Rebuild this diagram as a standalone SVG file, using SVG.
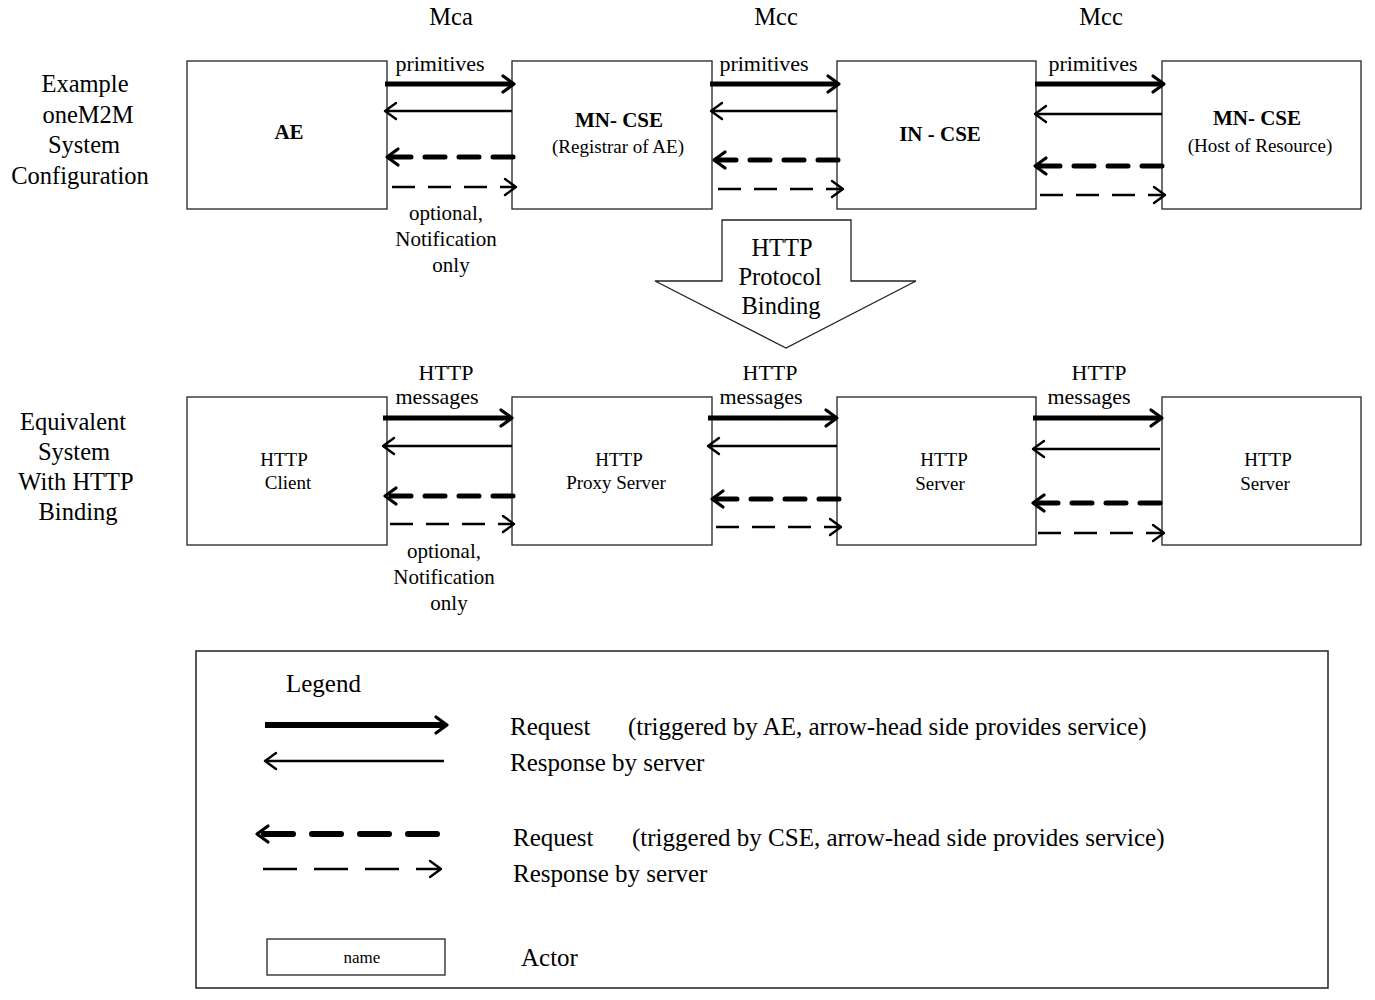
<svg xmlns="http://www.w3.org/2000/svg" width="1375" height="1000" viewBox="0 0 1375 1000">
<style>
text{font-family:"Liberation Serif","Times New Roman",serif;fill:#000}
.c{text-anchor:middle}
.s24{font-size:24.5px}
.s25{font-size:25px}
.s22{font-size:22px}
.s21{font-size:21px}
.s19{font-size:19px}
.b{font-weight:bold;font-size:21px}
.box{fill:#fff;stroke:#222;stroke-width:1.3}
.req{fill:none;stroke:#000;stroke-width:5;marker-end:url(#ahK)}
.rsp{fill:none;stroke:#000;stroke-width:2.4;marker-end:url(#ahT)}
.dreq{fill:none;stroke:#000;stroke-width:5;stroke-linecap:round;stroke-dasharray:20 14;marker-end:url(#ahK)}
.drsp{fill:none;stroke:#000;stroke-width:2.4;stroke-dasharray:23 13;marker-end:url(#ahT)}
.lreq{fill:none;stroke:#000;stroke-width:6;marker-end:url(#ahK)}
.ldreq{fill:none;stroke:#000;stroke-width:6;stroke-linecap:round;stroke-dasharray:29 19;marker-end:url(#ahK)}
.ldrsp{fill:none;stroke:#000;stroke-width:2.4;stroke-dasharray:34 17;marker-end:url(#ahT)}
</style>
<defs>
<marker id="ahK" markerUnits="userSpaceOnUse" markerWidth="18" markerHeight="22" viewBox="-15 -11 18 22" refX="-2" refY="0" orient="auto">
<path d="M-11,-8 L0,0 L-11,8" fill="none" stroke="#000" stroke-width="3.2" stroke-linecap="round" stroke-linejoin="round"/>
</marker>
<marker id="ahT" markerUnits="userSpaceOnUse" markerWidth="18" markerHeight="22" viewBox="-15 -11 18 22" refX="-1" refY="0" orient="auto">
<path d="M-11,-8 L0,0 L-11,8" fill="none" stroke="#000" stroke-width="2.4" stroke-linecap="round" stroke-linejoin="round"/>
</marker>
</defs>
<rect width="1375" height="1000" fill="#fff"/>

<g id="labels">
<text class="c s24" x="451" y="25">Mca</text>
<text class="c s24" x="776" y="25">Mcc</text>
<text class="c s24" x="1101" y="25">Mcc</text>
<text class="c s24" x="85" y="92">Example</text>
<text class="c s24" x="88" y="123">oneM2M</text>
<text class="c s24" x="84" y="153">System</text>
<text class="c s24" x="80" y="184">Configuration</text>
<text class="c s24" x="73" y="430">Equivalent</text>
<text class="c s24" x="74" y="460">System</text>
<text class="c s24" x="76" y="490">With HTTP</text>
<text class="c s24" x="78" y="520">Binding</text>
<text class="c s22" x="440" y="71">primitives</text>
<text class="c s22" x="764" y="71">primitives</text>
<text class="c s22" x="1093" y="71">primitives</text>
<text class="c s21" x="446" y="220">optional,</text>
<text class="c s21" x="446" y="246">Notification</text>
<text class="c s21" x="451" y="272">only</text>
<text class="c s22" x="446" y="380">HTTP</text>
<text class="c s22" x="437" y="404">messages</text>
<text class="c s22" x="770" y="380">HTTP</text>
<text class="c s22" x="761" y="404">messages</text>
<text class="c s22" x="1099" y="380">HTTP</text>
<text class="c s22" x="1089" y="404">messages</text>
<text class="c s21" x="444" y="558">optional,</text>
<text class="c s21" x="444" y="584">Notification</text>
<text class="c s21" x="449" y="610">only</text>
</g>

<g id="node-ae">
<rect class="box" x="187" y="61" width="200" height="148"/>
<text class="c b" x="289" y="139">AE</text>
</g>
<g id="node-mn-cse-registrar">
<rect class="box" x="512" y="61" width="200" height="148"/>
<text class="c b" x="619" y="127">MN- CSE</text>
<text class="c s19" x="618" y="153">(Registrar of AE)</text>
</g>
<g id="node-in-cse">
<rect class="box" x="837" y="61" width="199" height="148"/>
<text class="c b" x="940" y="141">IN - CSE</text>
</g>
<g id="node-mn-cse-host">
<rect class="box" x="1162" y="61" width="199" height="148"/>
<text class="c b" x="1257" y="125">MN- CSE</text>
<text class="c s19" x="1260" y="152">(Host of Resource)</text>
</g>

<g id="node-http-binding-arrow">
<polygon points="722,220 851,220 851,281 916,281 786,348 655,281 722,281" fill="#fff" stroke="#222" stroke-width="1.3"/>
<text class="c s24" x="782" y="256">HTTP</text>
<text class="c s24" x="780" y="285">Protocol</text>
<text class="c s24" x="781" y="314">Binding</text>
</g>

<g id="node-http-client">
<rect class="box" x="187" y="397" width="200" height="148"/>
<text class="c s19" x="284" y="466">HTTP</text>
<text class="c s19" x="288" y="489">Client</text>
</g>
<g id="node-http-proxy">
<rect class="box" x="512" y="397" width="200" height="148"/>
<text class="c s19" x="619" y="466">HTTP</text>
<text class="c s19" x="616" y="489">Proxy Server</text>
</g>
<g id="node-http-server-1">
<rect class="box" x="837" y="397" width="199" height="148"/>
<text class="c s19" x="944" y="466">HTTP</text>
<text class="c s19" x="940" y="490">Server</text>
</g>
<g id="node-http-server-2">
<rect class="box" x="1162" y="397" width="199" height="148"/>
<text class="c s19" x="1268" y="466">HTTP</text>
<text class="c s19" x="1265" y="490">Server</text>
</g>

<g id="connectors">
<path class="req" d="M385,84 H512"/>
<path class="rsp" d="M512,111 H386"/>
<path class="dreq" d="M513,157 H389"/>
<path class="drsp" d="M392,187 H515"/>

<path class="req" d="M710,84 H837"/>
<path class="rsp" d="M837,111 H712"/>
<path class="dreq" d="M838,160 H716"/>
<path class="drsp" d="M718,189 H842"/>

<path class="req" d="M1035,84 H1162"/>
<path class="rsp" d="M1162,114 H1036"/>
<path class="dreq" d="M1162,166 H1037"/>
<path class="drsp" d="M1040,195 H1164"/>

<path class="req" d="M383,418 H510"/>
<path class="rsp" d="M512,446 H384"/>
<path class="dreq" d="M513,496 H387"/>
<path class="drsp" d="M390,524 H513"/>

<path class="req" d="M708,418 H835"/>
<path class="rsp" d="M837,446 H709"/>
<path class="dreq" d="M839,499 H714"/>
<path class="drsp" d="M716,527 H840"/>

<path class="req" d="M1033,418 H1160"/>
<path class="rsp" d="M1160,449 H1034"/>
<path class="dreq" d="M1160,503 H1035"/>
<path class="drsp" d="M1038,533 H1163"/>
</g>

<g id="legend">
<rect x="196" y="651" width="1132" height="337" fill="none" stroke="#222" stroke-width="1.5"/>
<text class="s25" x="286" y="692">Legend</text>
<path class="lreq" d="M265,725 H445"/>
<path class="rsp" d="M444,761 H266"/>
<path class="ldreq" d="M437,834 H259"/>
<path class="ldrsp" d="M263,869 H440"/>
<text class="s25" x="510" y="735">Request</text>
<text class="s25" x="628" y="735">(triggered by AE, arrow-head side provides service)</text>
<text class="s25" x="510" y="771">Response by server</text>
<text class="s25" x="513" y="846">Request</text>
<text class="s25" x="632" y="846">(triggered by CSE, arrow-head side provides service)</text>
<text class="s25" x="513" y="882">Response by server</text>
<g id="legend-actor">
<rect class="box" x="267" y="939" width="178" height="36"/>
<text class="c" style="font-size:17px" x="362" y="963">name</text>
</g>
<text class="s25" x="521" y="966">Actor</text>
</g>
</svg>
